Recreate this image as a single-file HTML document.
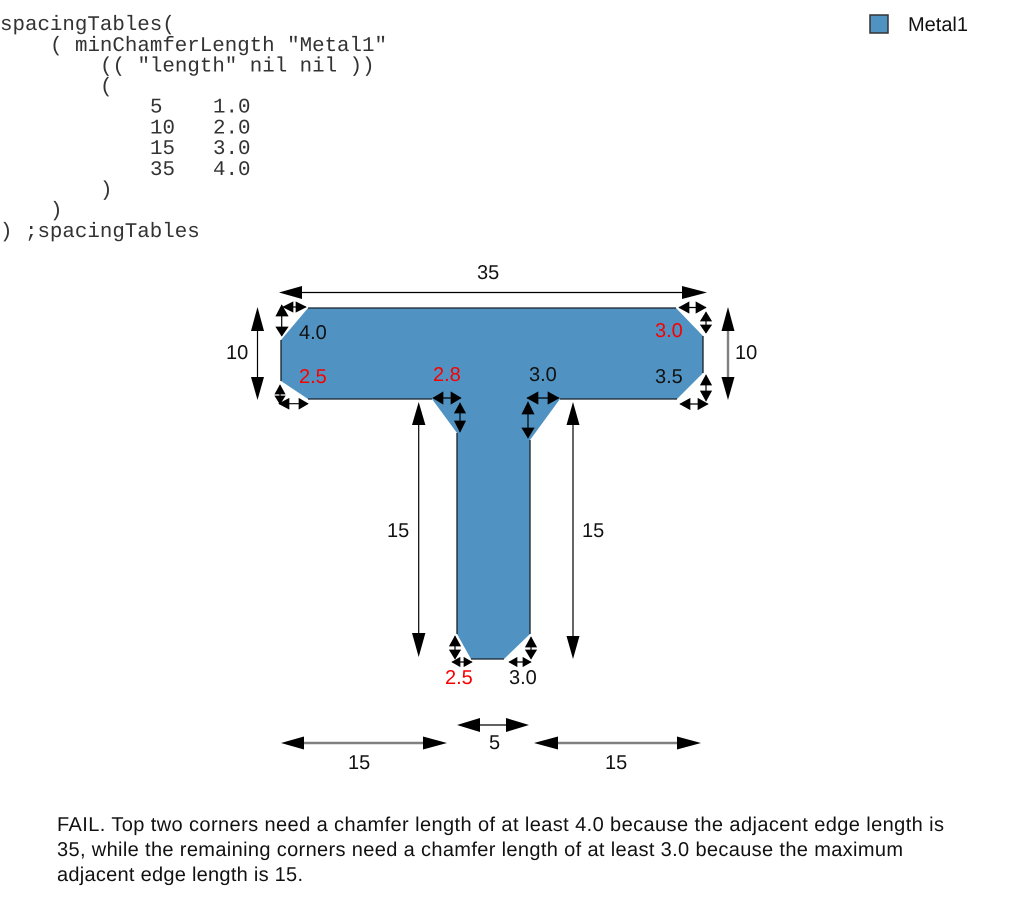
<!DOCTYPE html>
<html><head><meta charset="utf-8"><style>
html,body{margin:0;padding:0;background:#fff}
svg{display:block;text-rendering:geometricPrecision}
.s{font-family:"Liberation Sans",sans-serif;font-size:20px;fill:#111}
.r{fill:#f80000}
.m{font-family:"Liberation Mono",monospace;font-size:20.8px;fill:#333;white-space:pre}
.a{fill:#000}
.b{fill:#000;stroke:#000;stroke-width:.7;stroke-linejoin:miter}
</style></head><body>
<svg width="1013" height="909" viewBox="0 0 1013 909" xmlns="http://www.w3.org/2000/svg">
<rect width="1013" height="909" fill="#fff"/>
<g class="m">
<text x="0" y="30">spacingTables(</text>
<text x="50" y="51">( minChamferLength "Metal1"</text>
<text x="100" y="71.500">(( "length" nil nil ))</text>
<text x="100" y="92">(</text>
<text x="150" y="112.500">5</text><text x="213" y="112.500">1.0</text>
<text x="150" y="133.500">10</text><text x="213" y="133.500">2.0</text>
<text x="150" y="154">15</text><text x="213" y="154">3.0</text>
<text x="150" y="175">35</text><text x="213" y="175">4.0</text>
<text x="100" y="195.500">)</text>
<text x="50" y="216">)</text>
<text x="0" y="237">) ;spacingTables</text>
</g>
<rect x="870" y="15" width="18" height="18" fill="#5093c2" stroke="#333" stroke-width="1.500"/>
<text class="s" x="908" y="31" textLength="60">Metal1</text>

<polygon points="308,308 676,308 703,336 703,373 677,399 560,399 530,440 530,634 504,659 471,659 457,634 457,433 432,399 308,399 281,381 281,340" fill="#5093c2"/>
<g stroke="#16202a" stroke-width="1.300" fill="none">
<path d="M308,308H676M703,336V373M677,399H560M530,440V634M504,659H471M457,634V433M432,399H308M281,381V340"/>
</g>

<!-- lines -->
<g stroke="#000" stroke-width="1.200" fill="none">
<path d="M290,292.500H695"/>
<path d="M257.500,320V388"/>
<path d="M418.700,415V645"/>
<path d="M573,415V648"/>
<path d="M470,725H517"/>
<path d="M283,307H306M281.700,305V336M280,385V404M279,403.700H308"/>
<path d="M433,398H461M460,403V432M527,398H559M528,402V438"/>
<path d="M679,307.500H706M706,312V333M706,375V401M680,404H708"/>
<path d="M455,636V659M452,662H472M531,637V659M509,662H531"/>
</g>
<g stroke="#808080" stroke-width="2.400" fill="none">
<path d="M728,320V388"/>
<path d="M295,743H435"/>
<path d="M545,743H690"/>
</g>

<!-- arrow heads -->
<g class="a">
<polygon points="279,292.500 302,286 302,299"/><polygon points="707,292.500 682,286 682,299"/>
<polygon points="257.500,307 251,331 264,331"/><polygon points="257.500,400 251,377 264,377"/>
<polygon points="728,307 721.500,331 734.500,331"/><polygon points="728,400 721.500,377 734.500,377"/>
<polygon points="418.700,402 412,425 425.400,425"/><polygon points="418.700,657 412,633 425.400,633"/>
<polygon points="573,402 566.500,425 579.500,425"/><polygon points="573,659 566.500,636 579.500,636"/>
<polygon points="457,725 480,718 480,732"/><polygon points="529,725 506,718 506,732"/>
<polygon points="281,743 304,736.500 304,749.500"/><polygon points="447,743 423,736.500 423,749.500"/>
<polygon points="534,743 558,736.500 558,749.500"/><polygon points="701,743 677,736.500 677,749.500"/>
</g>
<g class="b">
<polygon points="283,307 293,302 293,312"/><polygon points="306,307 296,302 296,312"/>
<polygon points="281.700,305 276,316 288,316"/><polygon points="281.700,336 276,327 288,327"/>
<polygon points="280,385 275,394 285,394"/><polygon points="280,404 275,396 285,396"/>
<polygon points="279,403.700 289,398.500 289,409"/><polygon points="308,403.700 299,398.500 299,409"/>

<polygon points="433,398 443,392 443,404"/><polygon points="461,398 451,392 451,404"/>
<polygon points="460,403 454.500,413 465.500,413"/><polygon points="460,432 454.500,421 465.500,421"/>
<polygon points="527,398 538,392 538,404"/><polygon points="559,398 548,392 548,404"/>
<polygon points="528,402 522,414 534,414"/><polygon points="528,438 522,428 534,428"/>

<polygon points="679,307.500 689,302 689,313"/><polygon points="706,307.500 696,302 696,313"/>
<polygon points="706,312 700.500,321 711.500,321"/><polygon points="706,333 700.500,325 711.500,325"/>
<polygon points="706,375 700.500,385 711.500,385"/><polygon points="706,401 700.500,391 711.500,391"/>
<polygon points="680,404 690,398.500 690,409.500"/><polygon points="708,404 698,398.500 698,409.500"/>

<polygon points="455,636 449.500,646 460.500,646"/><polygon points="455,659 449.500,650 460.500,650"/>
<polygon points="452,662 460,657.500 460,666.500"/><polygon points="472,662 464,657.500 464,666.500"/>
<polygon points="531,637 525.500,647 536.500,647"/><polygon points="531,659 525.500,650 536.500,650"/>
<polygon points="509,662 517,657.500 517,666.500"/><polygon points="531,662 523,657.500 523,666.500"/>
</g>

<!-- labels -->
<text class="s" x="477" y="279">35</text>
<text class="s" x="226" y="359">10</text>
<text class="s" x="735" y="359">10</text>
<text class="s" x="299" y="339">4.0</text>
<text class="s r" x="299" y="383">2.5</text>
<text class="s r" x="433" y="381">2.8</text>
<text class="s" x="529" y="381">3.0</text>
<text class="s r" x="655" y="337">3.0</text>
<text class="s" x="655" y="383">3.5</text>
<text class="s" x="387" y="537">15</text>
<text class="s" x="582" y="537">15</text>
<text class="s r" x="445" y="684">2.5</text>
<text class="s" x="509" y="684">3.0</text>
<text class="s" x="489" y="749">5</text>
<text class="s" x="348" y="769">15</text>
<text class="s" x="605" y="769">15</text>

<text class="s" x="57" y="831" textLength="887">FAIL. Top two corners need a chamfer length of at least 4.0 because the adjacent edge length is</text>
<text class="s" x="57" y="856" textLength="846">35, while the remaining corners need a chamfer length of at least 3.0 because the maximum</text>
<text class="s" x="57" y="881" textLength="246">adjacent edge length is 15.</text>
</svg>
</body></html>
